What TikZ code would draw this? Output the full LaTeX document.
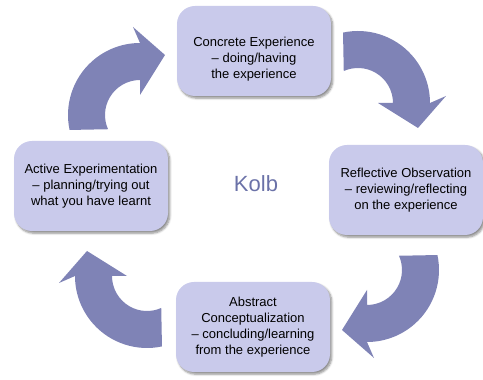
\documentclass[tikz,border=0pt]{standalone}
\usepackage{fontspec}
\setmainfont{Liberation Sans}
\usetikzlibrary{shadows.blur}

\definecolor{stagefill}{HTML}{C9CAEB}
\definecolor{cyclearrow}{HTML}{7F83B6}
\definecolor{titleblue}{HTML}{6B72A8}

\tikzset{
  stagebox/.style={
    fill=stagefill, draw=none, rounded corners=18pt,
    minimum width=154pt, minimum height=90pt,
    align=center, text=black,
    font=\fontsize{13}{16.2}\selectfont,
    blur shadow={shadow xshift=1.8pt, shadow yshift=-2.2pt,
                 shadow blur steps=6, shadow opacity=45}
  },
  stagetext/.style={align=center, text=black, inner sep=0pt,
    font=\fontsize{13}{16.2}\selectfont},
  arrowbody/.style={fill=cyclearrow, draw=none}
}

% one curved block arrow, tip at the local origin
\newcommand{\cyclearrowshape}{%
  \fill[arrowbody]
    ([shift={(-25,-60)}]192:72) arc[start angle=192,end angle=90,radius=72]
    -- (-32,28) -- (0,0) -- (-25,-40)
    -- (-25,-25) arc[start angle=90,end angle=204,radius=35]
    -- cycle;}

\begin{document}
\begin{tikzpicture}[x=1pt,y=1pt]
  \useasboundingbox (0,0) rectangle (483,380);

  % arrow tips
  \coordinate (tipA) at (165,325);
  \coordinate (tipB) at (418,252);
  \coordinate (tipC) at (342,50);
  \coordinate (tipD) at (87,129);

  \begin{scope}[shift={(tipA)}]\cyclearrowshape\end{scope}
  \begin{scope}[shift={(tipB)},rotate=-90]\cyclearrowshape\end{scope}
  \begin{scope}[shift={(tipC)},rotate=180]\cyclearrowshape\end{scope}
  \begin{scope}[shift={(tipD)},rotate=90]\cyclearrowshape\end{scope}

  % the four stages
  \node[stagebox] (concrete) at (254,329) {};
  \node[stagetext] (concretetext) at ([yshift=-8pt]concrete.center)
    {Concrete Experience\\– doing/having\\the experience};
  \node[stagebox] (reflective) at (406,190)
    {Reflective Observation\\– reviewing/reflecting\\on the experience};
  \node[stagebox] (abstract) at (253,53)
    {Abstract\\Conceptualization\\– concluding/learning\\from the experience};
  \node[stagebox] (active) at (91,194)
    {Active Experimentation\\– planning/trying out\\what you have learnt};

  % centre title
  \node[text=titleblue, font=\fontsize{22}{26}\selectfont] (title) at (256,196) {Kolb};
\end{tikzpicture}
\end{document}
